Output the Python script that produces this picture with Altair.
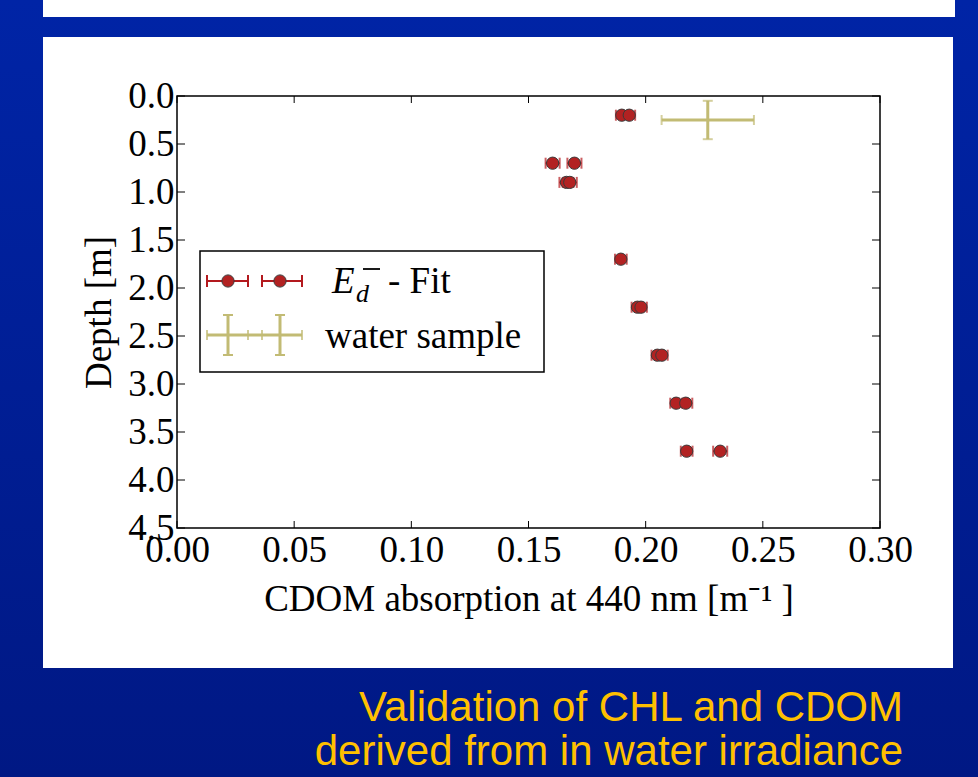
import altair as alt
import pandas as pd

# ---------------- data ----------------
fit_cdom = [0.1898, 0.1930, 0.1603, 0.1696, 0.1662, 0.1676, 0.1894, 0.1965, 0.1980,
            0.2050, 0.2069, 0.2130, 0.2171, 0.2175, 0.2318]
fit_depth = [0.2, 0.2, 0.7, 0.7, 0.9, 0.9, 1.7, 2.2, 2.2, 2.7, 2.7, 3.2, 3.2, 3.7, 3.7]
fit_err = [0.0025, 0.0025, 0.003, 0.003, 0.003, 0.003, 0.0025, 0.0025, 0.0025,
           0.0025, 0.0025, 0.0025, 0.0028, 0.0025, 0.003]

sample_cdom = [0.2265]
sample_depth = [0.25]
sample_xerr = [0.0197]
sample_yerr = [0.2]

x_ticks = [0.0, 0.05, 0.10, 0.15, 0.20, 0.25, 0.30]
y_ticks = [0.0, 0.5, 1.0, 1.5, 2.0, 2.5, 3.0, 3.5, 4.0, 4.5]

subtitle_lines = ["Validation of CHL and CDOM", "derived from in water irradiance"]

# ---------------- layout ----------------
W, H = 703, 432
L, T = 177, 96
SERIF = "Liberation Serif"
RED = "#b3191e"
OLIVE = "#c2bb74"
FS = 37

fit = pd.DataFrame({"x": fit_cdom, "y": fit_depth, "e": fit_err})
fit["lo"] = fit["x"] - fit["e"]
fit["hi"] = fit["x"] + fit["e"]
samp = pd.DataFrame({"x": sample_cdom, "y": sample_depth,
                     "xe": sample_xerr, "ye": sample_yerr})
samp["xlo"] = samp["x"] - samp["xe"]
samp["xhi"] = samp["x"] + samp["xe"]
samp["ylo"] = samp["y"] - samp["ye"]
samp["yhi"] = samp["y"] + samp["ye"]
xt = pd.DataFrame({"v": x_ticks})
yt = pd.DataFrame({"v": y_ticks})
one = pd.DataFrame({"a": [0]})

xscale = alt.Scale(domain=[0, 0.3], nice=False, zero=False)
yscale = alt.Scale(domain=[0, 4.5], nice=False, zero=False, reverse=True)

# background (slide)
bg = alt.Chart(one).mark_rect(
    color=alt.LinearGradient(gradient="linear", x1=0, y1=0, x2=0, y2=1,
                             stops=[alt.GradientStop(color="#0024a6", offset=0),
                                    alt.GradientStop(color="#001884", offset=1)])
).encode(x=alt.value(-L), x2=alt.value(978 - L), y=alt.value(-T), y2=alt.value(777 - T))

panel_top = alt.Chart(one).mark_rect(color="white").encode(
    x=alt.value(43 - L), x2=alt.value(955 - L), y=alt.value(-T), y2=alt.value(17 - T))
panel = alt.Chart(one).mark_rect(color="white").encode(
    x=alt.value(43 - L), x2=alt.value(953 - L), y=alt.value(37 - T), y2=alt.value(668 - T))

# axes (labels only)
x_axis = alt.Axis(values=x_ticks, format=".2f", title="CDOM absorption at 440 nm [m⁻¹ ]",
                  ticks=False, domain=False, grid=False, labelFont=SERIF, labelFontSize=FS,
                  labelColor="black", labelPadding=4, labelFlush=False, labelOverlap=False,
                  titleFont=SERIF, titleFontSize=FS, titleFontWeight="normal",
                  titleColor="black", titlePadding=13, zindex=1)
y_axis = alt.Axis(values=y_ticks, format=".1f", title="Depth [m]",
                  ticks=False, domain=False, grid=False, labelFont=SERIF, labelFontSize=FS,
                  labelColor="black", labelPadding=3, labelFlush=False, labelOverlap=False,
                  titleFont=SERIF, titleFontSize=FS, titleFontWeight="normal",
                  titleColor="black", titlePadding=9, zindex=1)

# plot frame
frame = alt.Chart(one).mark_rect(fill="white", stroke="black", strokeWidth=1.5).encode(
    x=alt.value(0), x2=alt.value(W), y=alt.value(0), y2=alt.value(H))

# tick marks pointing inward on all four sides
tick_b = alt.Chart(xt).mark_rule(color="black", strokeWidth=1).encode(
    x=alt.X("v:Q", scale=xscale, axis=x_axis), y=alt.value(H), y2=alt.value(H - 7))
tick_t = alt.Chart(xt).mark_rule(color="black", strokeWidth=1).encode(
    x=alt.X("v:Q", scale=xscale), y=alt.value(0), y2=alt.value(7))
tick_l = alt.Chart(yt).mark_rule(color="black", strokeWidth=1).encode(
    y=alt.Y("v:Q", scale=yscale, axis=y_axis), x=alt.value(0), x2=alt.value(8))
tick_r = alt.Chart(yt).mark_rule(color="black", strokeWidth=1).encode(
    y=alt.Y("v:Q", scale=yscale), x=alt.value(W), x2=alt.value(W - 8))

# water sample error cross
s_h = alt.Chart(samp).mark_rule(color=OLIVE, strokeWidth=3).encode(
    x=alt.X("xlo:Q", scale=xscale), x2="xhi:Q", y=alt.Y("y:Q", scale=yscale))
s_v = alt.Chart(samp).mark_rule(color=OLIVE, strokeWidth=3).encode(
    y=alt.Y("ylo:Q", scale=yscale), y2="yhi:Q", x=alt.X("x:Q", scale=xscale))
s_cap_lo = alt.Chart(samp).mark_tick(color=OLIVE, thickness=2, size=10, orient="vertical").encode(
    x=alt.X("xlo:Q", scale=xscale), y=alt.Y("y:Q", scale=yscale))
s_cap_hi = alt.Chart(samp).mark_tick(color=OLIVE, thickness=2, size=10, orient="vertical").encode(
    x=alt.X("xhi:Q", scale=xscale), y=alt.Y("y:Q", scale=yscale))
s_cap_t = alt.Chart(samp).mark_tick(color=OLIVE, thickness=2, size=10, orient="horizontal").encode(
    x=alt.X("x:Q", scale=xscale), y=alt.Y("ylo:Q", scale=yscale))
s_cap_b = alt.Chart(samp).mark_tick(color=OLIVE, thickness=2, size=10, orient="horizontal").encode(
    x=alt.X("x:Q", scale=xscale), y=alt.Y("yhi:Q", scale=yscale))

# fit error bars and points
f_bar = alt.Chart(fit).mark_rule(color=RED, strokeWidth=2).encode(
    x=alt.X("lo:Q", scale=xscale), x2="hi:Q", y=alt.Y("y:Q", scale=yscale))
f_cap_lo = alt.Chart(fit).mark_tick(color=RED, thickness=2, size=11, orient="vertical").encode(
    x=alt.X("lo:Q", scale=xscale), y=alt.Y("y:Q", scale=yscale))
f_cap_hi = alt.Chart(fit).mark_tick(color=RED, thickness=2, size=11, orient="vertical").encode(
    x=alt.X("hi:Q", scale=xscale), y=alt.Y("y:Q", scale=yscale))
f_pts = alt.Chart(fit).mark_point(filled=True, shape="circle", size=150, color="#b22222",
                                  stroke="#3a3a3a", strokeWidth=1, opacity=1).encode(
    x=alt.X("x:Q", scale=xscale), y=alt.Y("y:Q", scale=yscale))

# ---------------- legend (drawn) ----------------
lg_box = alt.Chart(one).mark_rect(fill="white", stroke="black", strokeWidth=1.5).encode(
    x=alt.value(23), x2=alt.value(367), y=alt.value(155), y2=alt.value(276))
leg = [lg_box]
for (a, b, m) in [(30, 71, 51), (85, 125, 103)]:
    leg.append(alt.Chart(one).mark_rule(color=RED, strokeWidth=2).encode(
        x=alt.value(a), x2=alt.value(b), y=alt.value(185)))
    for cx in (a, b):
        leg.append(alt.Chart(one).mark_rule(color=RED, strokeWidth=2).encode(
            x=alt.value(cx), y=alt.value(179), y2=alt.value(191)))
    leg.append(alt.Chart(one).mark_point(filled=True, shape="circle", size=150, color="#b22222",
                                         stroke="#3a3a3a", strokeWidth=1, opacity=1).encode(
        x=alt.value(m), y=alt.value(185)))
leg.append(alt.Chart(one).mark_rule(color=OLIVE, strokeWidth=3).encode(
    x=alt.value(30), x2=alt.value(125), y=alt.value(239)))
for cx in (51, 103):
    leg.append(alt.Chart(one).mark_rule(color=OLIVE, strokeWidth=3).encode(
        x=alt.value(cx), y=alt.value(219), y2=alt.value(259)))
    leg.append(alt.Chart(one).mark_rule(color=OLIVE, strokeWidth=2).encode(
        x=alt.value(cx - 5), x2=alt.value(cx + 5), y=alt.value(219)))
    leg.append(alt.Chart(one).mark_rule(color=OLIVE, strokeWidth=2).encode(
        x=alt.value(cx - 5), x2=alt.value(cx + 5), y=alt.value(259)))
for cx in (30, 71, 85, 125):
    leg.append(alt.Chart(one).mark_rule(color=OLIVE, strokeWidth=1.5).encode(
        x=alt.value(cx), y=alt.value(234), y2=alt.value(244)))

leg.append(alt.Chart(one).mark_text(text="E", font=SERIF, fontSize=FS, fontStyle="italic",
                                    align="left", baseline="alphabetic", color="black").encode(
    x=alt.value(155), y=alt.value(197)))
leg.append(alt.Chart(one).mark_text(text="d", font=SERIF, fontSize=26, fontStyle="italic",
                                    align="left", baseline="alphabetic", color="black").encode(
    x=alt.value(179), y=alt.value(206)))
leg.append(alt.Chart(one).mark_rule(color="black", strokeWidth=1.8).encode(
    x=alt.value(186), x2=alt.value(203), y=alt.value(173)))
leg.append(alt.Chart(one).mark_text(text="- Fit", font=SERIF, fontSize=FS,
                                    align="left", baseline="alphabetic", color="black").encode(
    x=alt.value(211), y=alt.value(197)))
leg.append(alt.Chart(one).mark_text(text="water sample", font=SERIF, fontSize=FS,
                                    align="left", baseline="alphabetic", color="black").encode(
    x=alt.value(148), y=alt.value(252)))

# slide caption
cap = []
for i, line in enumerate(subtitle_lines):
    cap.append(alt.Chart(one).mark_text(text=line, font="Liberation Sans", fontSize=42,
                                        align="right", baseline="alphabetic",
                                        color="#ffc000").encode(
        x=alt.value(903 - L), y=alt.value(721 - T + i * 44)))

layers = [bg, panel_top, panel, frame, tick_b, tick_t, tick_l, tick_r,
          s_h, s_v, s_cap_lo, s_cap_hi, s_cap_t, s_cap_b,
          f_bar, f_cap_lo, f_cap_hi, f_pts] + leg + cap

chart = alt.layer(*layers).properties(
    width=W, height=H,
    autosize=alt.AutoSizeParams(type="none"),
    padding={"left": L, "top": T, "right": 978 - L - W, "bottom": 777 - T - H},
    background="#0022a0",
).configure_view(stroke=None)

chart.save("out.html", embed_options={"renderer": "svg", "actions": False})
